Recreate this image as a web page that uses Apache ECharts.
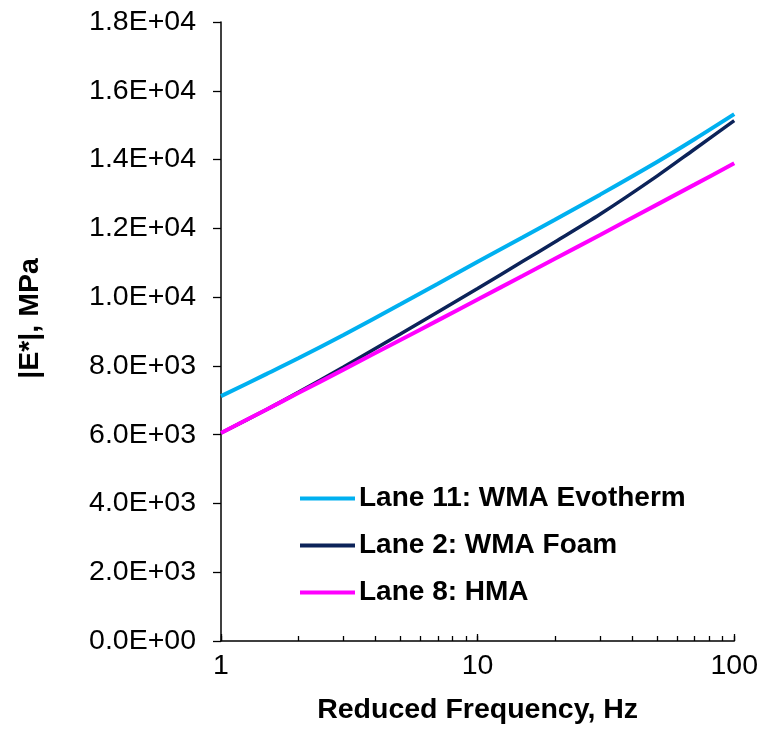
<!DOCTYPE html>
<html>
<head>
<meta charset="utf-8">
<script src="https://cdn.jsdelivr.net/npm/echarts@6/dist/echarts.min.js"></script>
<style>
html,body{margin:0;padding:0;background:#fff;}
#chart{width:761px;height:739px;}
</style>
</head>
<body>
<div id="chart"></div>
<script>
// Reduced frequency (Hz)
const freq = [1, 1.5, 2, 3, 5, 7, 10, 15, 20, 30, 50, 70, 100];
// |E*| values (MPa)
const evotherm = [7120, 7760, 8220, 8900, 9790, 10390, 11030, 11740, 12250, 12980, 13930, 14590, 15320];
const foam = [6050, 6725, 7230, 7970, 8925, 9570, 10250, 11041, 11604, 12409, 13519, 14301, 15130];
const hma = [6050, 6727, 7210, 7891, 8754, 9323, 9930, 10621, 11114, 11809, 12689, 13271, 13890];
const seriesNames = ['Lane 11: WMA Evotherm', 'Lane 2: WMA Foam', 'Lane 8: HMA'];
const minorTickValues = [1, 2, 3, 4, 5, 6, 7, 8, 9, 10, 20, 30, 40, 50, 60, 70, 80, 90, 100];

const font = '"Liberation Sans", Arial, sans-serif';
function sci(v) {
  const s = Number(v).toExponential(1);
  const parts = s.split('e');
  const sign = parts[1][0];
  let e = parts[1].slice(1);
  if (e.length < 2) e = '0' + e;
  return parts[0] + 'E' + sign + e;
}
function zip(xs, ys) { return xs.map((x, i) => [x, ys[i]]); }

const chart = echarts.init(document.getElementById('chart'), null, {renderer: 'canvas'});
chart.setOption({
  animation: false,
  backgroundColor: '#ffffff',
  grid: {left: 221, right: 23, top: 22, bottom: 98},
  legend: {
    orient: 'vertical',
    left: 300,
    top: 483,
    padding: 0,
    icon: 'rect',
    itemWidth: 55,
    itemHeight: 4,
    itemGap: 16,
    data: seriesNames,
    textStyle: {fontFamily: font, fontSize: 28, fontWeight: 'bold', color: '#000', lineHeight: 31, padding: [0, 0, 0, -1]},
    formatter: n => n
  },
  xAxis: [{
    type: 'log',
    logBase: 10,
    min: 1,
    max: 100,
    name: 'Reduced Frequency, Hz',
    nameLocation: 'middle',
    nameGap: 55,
    nameTextStyle: {fontFamily: font, fontSize: 28.5, fontWeight: 'bold', color: '#000'},
    axisLine: {show: true, lineStyle: {color: '#000', width: 1.5}},
    axisTick: {show: true, inside: true, length: 7, lineStyle: {color: '#000', width: 1.3}},
    axisLabel: {fontFamily: font, fontSize: 28.5, color: '#000', margin: 11},
    splitLine: {show: false}
  }, {
    type: 'log',
    logBase: 10,
    min: 1,
    max: 100,
    position: 'bottom',
    axisLine: {show: false},
    axisTick: {show: true, inside: true, length: 5, customValues: minorTickValues, lineStyle: {color: '#000', width: 1.3}},
    axisLabel: {show: false},
    splitLine: {show: false}
  }],
  yAxis: {
    type: 'value',
    min: 0,
    max: 18000,
    interval: 2000,
    name: '|E*|, MPa',
    nameLocation: 'middle',
    nameGap: 176,
    nameTextStyle: {fontFamily: font, fontSize: 28.5, fontWeight: 'bold', color: '#000', padding: [0, 0, 0, 26]},
    axisLine: {show: true, lineStyle: {color: '#000', width: 1.5}},
    axisTick: {show: true, length: 8, lineStyle: {color: '#000', width: 1.3}},
    axisLabel: {fontFamily: font, fontSize: 28.5, color: '#000', margin: 25, formatter: sci},
    splitLine: {show: false}
  },
  series: [
    {name: seriesNames[0], type: 'line', xAxisIndex: 0, smooth: 0.3, symbol: 'none', data: zip(freq, evotherm), lineStyle: {color: '#00B0F0', width: 4}, itemStyle: {color: '#00B0F0'}},
    {name: seriesNames[1], type: 'line', xAxisIndex: 0, smooth: 0.3, symbol: 'none', data: zip(freq, foam), lineStyle: {color: '#0C2359', width: 3.5}, itemStyle: {color: '#0C2359'}},
    {name: seriesNames[2], type: 'line', xAxisIndex: 0, smooth: 0.3, symbol: 'none', data: zip(freq, hma), lineStyle: {color: '#FF00FF', width: 4}, itemStyle: {color: '#FF00FF'}}
  ]
});
</script>
</body>
</html>
